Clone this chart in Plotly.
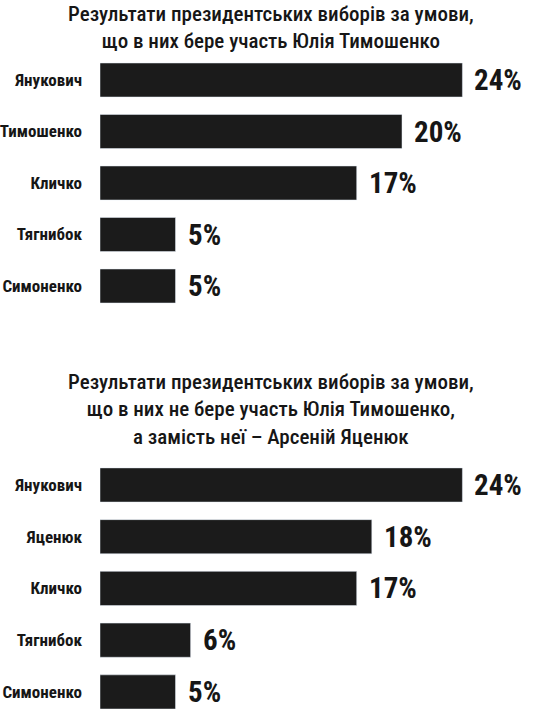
import plotly.graph_objects as go

# ---- data ----
title_top = "Результати президентських виборів за умови,<br>що в них бере участь Юлія Тимошенко"
cats_top = ["Янукович", "Тимошенко", "Кличко", "Тягнибок", "Симоненко"]
vals_top = [24, 20, 17, 5, 5]

title_bottom = ("Результати президентських виборів за умови,<br>"
                "що в них не бере участь Юлія Тимошенко,<br>"
                "а замість неї – Арсеній Яценюк")
cats_bottom = ["Янукович", "Яценюк", "Кличко", "Тягнибок", "Симоненко"]
vals_bottom = [24, 18, 17, 6, 5]

W, H = 536, 709
FONT = "Roboto Condensed, DejaVu Sans Condensed, sans-serif"
BAR = "#1b1b1b"
INK = "#161616"

fig = go.Figure()
fig.add_trace(go.Bar(x=vals_top, y=cats_top, orientation="h", marker_color=BAR,
                     xaxis="x", yaxis="y", hoverinfo="skip"))
fig.add_trace(go.Bar(x=vals_bottom, y=cats_bottom, orientation="h", marker_color=BAR,
                     xaxis="x2", yaxis="y2", hoverinfo="skip"))

x0 = 100 / W
xr = [0, 436 / 15.1]

def pdy(px):
    return 1 - px / H

axis_common = dict(showgrid=False, zeroline=False, showline=False, automargin=False)
tickfont = dict(size=17, family=FONT, weight="bold", color=INK)
fig.update_layout(
    width=W, height=H, margin=dict(l=0, r=0, t=0, b=0),
    paper_bgcolor="white", plot_bgcolor="white", showlegend=False,
    bargap=0.34,
    font=dict(family=FONT, color=INK),
    xaxis=dict(domain=[x0, 1], range=xr, showticklabels=False, anchor="y", **axis_common),
    xaxis2=dict(domain=[x0, 1], range=xr, showticklabels=False, anchor="y2", **axis_common),
    yaxis=dict(domain=[pdy(311.75), pdy(54.25)], categoryorder="array", categoryarray=cats_top,
               range=[4.5, -0.5], anchor="x", ticklabelstandoff=17,
               tickfont=tickfont, **axis_common),
    yaxis2=dict(domain=[0, pdy(459.1)], categoryorder="array", categoryarray=cats_bottom,
                range=[4.33, -0.5], anchor="x2", ticklabelstandoff=17,
                tickfont=tickfont, **axis_common),
)

vfont = dict(size=29, family=FONT, weight="bold", color=INK)
anns = []
for c, v in zip(cats_top, vals_top):
    anns.append(dict(x=v, y=c, xref="x", yref="y", text=f"{v}%", showarrow=False,
                     xanchor="left", yanchor="middle", xshift=10, font=vfont))
for c, v in zip(cats_bottom, vals_bottom):
    anns.append(dict(x=v, y=c, xref="x2", yref="y2", text=f"{v}%", showarrow=False,
                     xanchor="left", yanchor="middle", xshift=10, font=vfont))
tfont = dict(size=21, family=FONT, weight=500, color=INK)
anns.append(dict(x=271 / W, y=pdy(27), xref="paper", yref="paper", text=title_top,
                 showarrow=False, xanchor="center", yanchor="middle", align="center", font=tfont))
anns.append(dict(x=271 / W, y=pdy(409), xref="paper", yref="paper", text=title_bottom,
                 showarrow=False, xanchor="center", yanchor="middle", align="center", font=tfont))
fig.update_layout(annotations=anns)

fig.write_html("out.html")
